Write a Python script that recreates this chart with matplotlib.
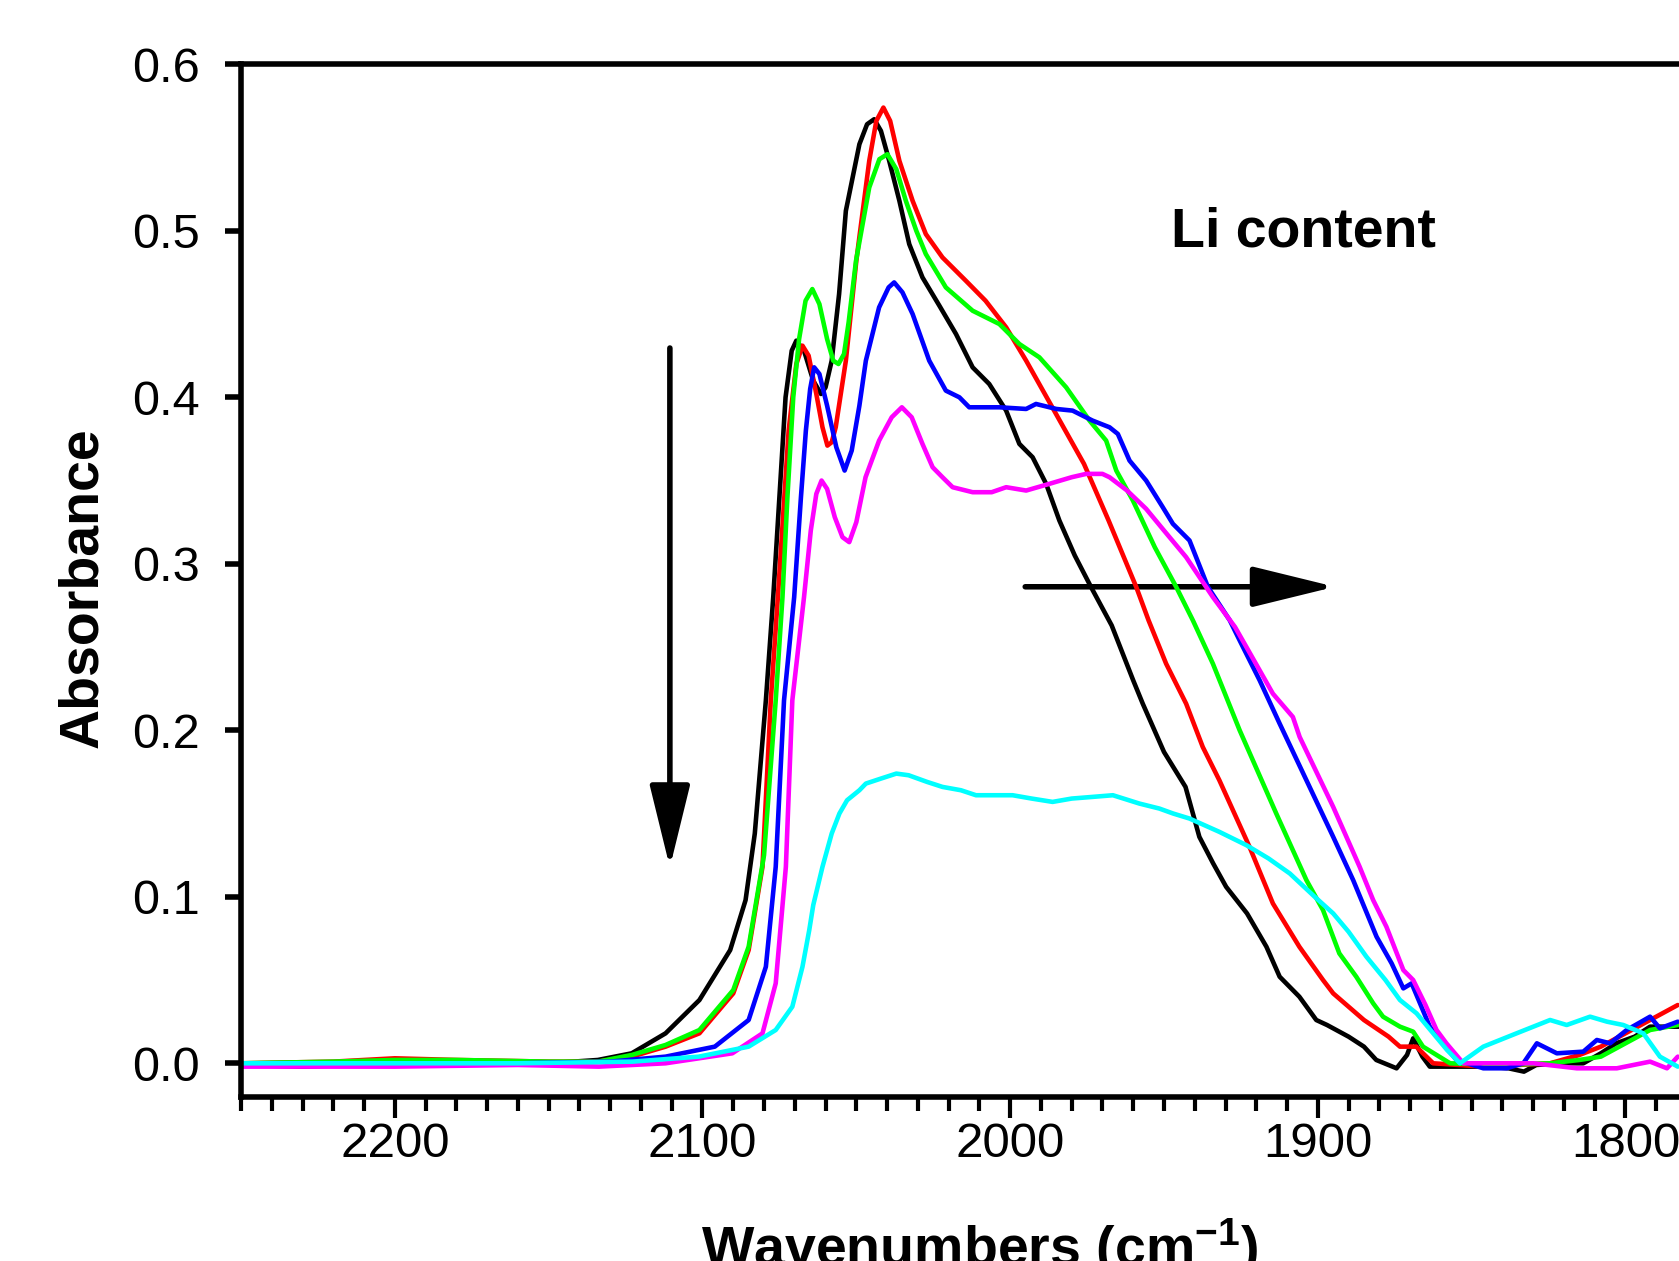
import matplotlib
matplotlib.use('Agg')
import matplotlib.pyplot as plt
from matplotlib.ticker import MultipleLocator, FormatStrFormatter
from matplotlib.patches import FancyArrowPatch

plt.rcParams['font.family'] = ['Liberation Sans', 'DejaVu Sans']
plt.rcParams['mathtext.fontset'] = 'custom'
plt.rcParams['mathtext.rm'] = 'Liberation Sans:bold'
plt.rcParams['mathtext.default'] = 'rm'

# spectra: wavenumber (cm-1) / absorbance
wn_black = [2250, 2230, 2200, 2170, 2150, 2134, 2123, 2112, 2101, 2091, 2086, 2083, 2079.4, 2077, 2075, 2073,
            2071, 2069.5, 2067, 2064, 2061.5, 2060, 2058, 2055.6, 2053.4, 2049, 2046.5, 2044.2, 2042, 2039.3,
            2036, 2032.8, 2028.5, 2023, 2017.6, 2012.2, 2006.8, 2001.3, 1997, 1992.7, 1988.3, 1984, 1979,
            1973.7, 1967, 1960, 1956.9, 1950, 1943, 1938.5, 1934, 1929.8, 1923, 1916.7, 1912.4, 1906, 1900.5,
            1897, 1890, 1885, 1881, 1874.4, 1871, 1869, 1866, 1863.6, 1855, 1845, 1838, 1833, 1829, 1820,
            1813.7, 1808, 1803, 1797, 1792, 1782]
ab_black = [-0.001, -0.002, 0.0, 0.0, 0.0, 0.002, 0.006, 0.018, 0.038, 0.068, 0.098, 0.138, 0.218, 0.28, 0.34,
            0.40, 0.428, 0.434, 0.428, 0.41, 0.402, 0.406, 0.422, 0.462, 0.512, 0.552, 0.564, 0.567, 0.560,
            0.542, 0.518, 0.492, 0.472, 0.455, 0.438, 0.418, 0.408, 0.392, 0.372, 0.364, 0.348, 0.326, 0.305,
            0.286, 0.263, 0.230, 0.216, 0.187, 0.166, 0.136, 0.12, 0.106, 0.090, 0.070, 0.052, 0.040, 0.026,
            0.023, 0.016, 0.010, 0.002, -0.003, 0.005, 0.015, 0.004, -0.002, -0.002, -0.002, -0.003, -0.005,
            -0.001, 0.0, 0.0, 0.006, 0.012, 0.016, 0.022, 0.022]

wn_red = [2250, 2220, 2200, 2180, 2150, 2134, 2123, 2112, 2101, 2090, 2085, 2080.5, 2077.8, 2075.5, 2072,
          2069.5, 2067.5, 2065.5, 2063, 2061, 2059.4, 2058, 2056.7, 2053.4, 2050, 2045.8, 2043.5, 2041.2, 2039,
          2036, 2031.7, 2027.4, 2022, 2014.4, 2008, 2001.3, 1994.8, 1986, 1976, 1968, 1959, 1955, 1949.3,
          1942.8, 1937.4, 1932, 1922.2, 1914.6, 1906, 1898.3, 1895, 1885, 1877, 1873.3, 1868, 1862.5, 1846,
          1835, 1824.5, 1815, 1808, 1800, 1792, 1783]
ab_red = [0.0, 0.001, 0.003, 0.002, 0.001, 0.001, 0.004, 0.010, 0.018, 0.042, 0.068, 0.118, 0.218, 0.28, 0.38,
          0.42, 0.431, 0.425, 0.402, 0.382, 0.371, 0.373, 0.382, 0.422, 0.482, 0.542, 0.566, 0.574, 0.566,
          0.542, 0.518, 0.498, 0.484, 0.470, 0.458, 0.442, 0.422, 0.393, 0.360, 0.326, 0.286, 0.266, 0.240,
          0.216, 0.190, 0.170, 0.130, 0.096, 0.070, 0.050, 0.042, 0.026, 0.016, 0.010, 0.010, 0.0, -0.002,
          -0.001, 0.0, 0.005, 0.010, 0.018, 0.026, 0.035]

wn_green = [2250, 2220, 2200, 2180, 2150, 2134, 2123, 2112, 2101, 2090, 2085, 2080, 2076.2, 2074, 2072.4,
            2070.5, 2068.6, 2066.5, 2064.3, 2062, 2059.5, 2057.5, 2055.8, 2054, 2052.5, 2050.1, 2045.8, 2042.5,
            2039.9, 2037, 2033.9, 2030.5, 2027.4, 2020.9, 2012.2, 2003.5, 1997, 1990.5, 1981.8, 1974.2, 1968.8,
            1965.5, 1960.1, 1953, 1946, 1940.6, 1934.1, 1925.4, 1913.5, 1903.7, 1898.3, 1893, 1887.5, 1882,
            1878.8, 1873.3, 1869, 1865.8, 1857, 1840, 1824.5, 1815, 1808, 1800, 1792, 1783]
ab_green = [0.0, 0.001, 0.002, 0.002, 0.001, 0.001, 0.005, 0.011, 0.020, 0.044, 0.07, 0.125, 0.218, 0.28, 0.34,
            0.40, 0.435, 0.458, 0.465, 0.456, 0.435, 0.422, 0.420, 0.426, 0.445, 0.482, 0.526, 0.543, 0.546,
            0.537, 0.518, 0.50, 0.486, 0.466, 0.452, 0.444, 0.432, 0.424, 0.406, 0.386, 0.374, 0.356, 0.338,
            0.31, 0.286, 0.266, 0.240, 0.200, 0.150, 0.110, 0.092, 0.066, 0.052, 0.036, 0.028, 0.022, 0.019,
            0.010, 0.0, -0.001, 0.0, 0.002, 0.004, 0.012, 0.020, 0.023]

wn_blue = [2250, 2200, 2160, 2130, 2112, 2096, 2085, 2079.4, 2076.2, 2073.5, 2070.2, 2068, 2066.4, 2065,
           2063.7, 2062, 2059.5, 2056.5, 2053.8, 2051.5, 2049, 2046.9, 2042.6, 2039.5, 2037.7, 2035, 2031.7,
           2026.3, 2020.9, 2016.5, 2013.3, 2003.5, 1994.8, 1991.6, 1985, 1979.7, 1973.2, 1967.7, 1965, 1961.2,
           1955.8, 1950.4, 1947.1, 1941.7, 1935.7, 1928.6, 1925.4, 1918.9, 1912.4, 1903.7, 1895, 1888.5,
           1880.9, 1876, 1872.2, 1869.5, 1863.6, 1859.3, 1854.9, 1846.2, 1838.6, 1833.2, 1828.8, 1822.3,
           1813.7, 1809.3, 1805, 1799.6, 1792, 1788.8, 1783]
ab_blue = [0.0, 0.0, 0.0, 0.001, 0.004, 0.010, 0.026, 0.058, 0.118, 0.218, 0.280, 0.34, 0.380, 0.405, 0.418,
           0.414, 0.395, 0.37, 0.356, 0.368, 0.395, 0.422, 0.454, 0.466, 0.469, 0.463, 0.450, 0.422, 0.404,
           0.400, 0.394, 0.394, 0.393, 0.396, 0.393, 0.392, 0.386, 0.382, 0.378, 0.362, 0.350, 0.334, 0.324,
           0.314, 0.286, 0.266, 0.254, 0.230, 0.204, 0.170, 0.136, 0.110, 0.076, 0.060, 0.045, 0.048, 0.022,
           0.012, 0.002, -0.003, -0.003, 0.0, 0.012, 0.006, 0.007, 0.014, 0.012, 0.020, 0.028, 0.021, 0.025]

wn_magenta = [2250, 2200, 2160, 2133.7, 2112, 2090.3, 2080.5, 2076.2, 2072.9, 2070.8, 2067, 2064.8, 2063,
              2061.3, 2059.5, 2057, 2054.5, 2052.3, 2050, 2047, 2042.6, 2038.5, 2035.2, 2032, 2028.5, 2025.2,
              2022, 2018.7, 2012.2, 2006, 2001.3, 1994.8, 1987.3, 1980, 1975.3, 1970, 1967.7, 1962, 1955.8, 1950,
              1942.8, 1934.1, 1926.9, 1923.2, 1914.6, 1908.1, 1905.9, 1895, 1886.4, 1882, 1877.7, 1872.2, 1869,
              1865, 1861.4, 1858.2, 1852.7, 1840, 1829.9, 1815.8, 1802.8, 1792, 1786.5, 1783]
ab_magenta = [-0.002, -0.002, -0.001, -0.002, 0.0, 0.006, 0.018, 0.048, 0.118, 0.218, 0.280, 0.320, 0.342,
              0.350, 0.345, 0.328, 0.316, 0.313, 0.325, 0.352, 0.374, 0.388, 0.394, 0.388, 0.372, 0.358, 0.352,
              0.346, 0.343, 0.343, 0.346, 0.344, 0.348, 0.352, 0.354, 0.354, 0.352, 0.344, 0.333, 0.320, 0.304,
              0.280, 0.262, 0.250, 0.222, 0.208, 0.196, 0.154, 0.118, 0.098, 0.082, 0.056, 0.050, 0.035, 0.020,
              0.012, 0.0, 0.0, 0.0, -0.003, -0.003, 0.001, -0.003, 0.004]

wn_cyan = [2250, 2200, 2160, 2122.8, 2101.2, 2085, 2076.2, 2070.8, 2067.5, 2065.3, 2064, 2061, 2058, 2055.5,
           2053, 2049, 2046.9, 2042, 2037, 2033, 2027, 2022, 2016, 2011.1, 2005, 1999.2, 1993, 1986.2, 1980,
           1973.2, 1966.6, 1958, 1951.5, 1947, 1941.7, 1932, 1923.2, 1916, 1909.1, 1901, 1895, 1890, 1884.2,
           1878, 1873.3, 1867.9, 1862.5, 1858, 1853.8, 1846.2, 1835.4, 1824.5, 1819.1, 1811.5, 1806, 1800.7,
           1794.2, 1788.8, 1783]
ab_cyan = [0.0, 0.0, 0.0, 0.001, 0.004, 0.010, 0.020, 0.034, 0.058, 0.08, 0.095, 0.118, 0.138, 0.150, 0.158,
           0.164, 0.168, 0.171, 0.174, 0.173, 0.169, 0.166, 0.164, 0.161, 0.161, 0.161, 0.159, 0.157, 0.159,
           0.160, 0.161, 0.156, 0.153, 0.150, 0.147, 0.139, 0.131, 0.123, 0.114, 0.10, 0.090, 0.079, 0.064,
           0.050, 0.038, 0.030, 0.018, 0.008, 0.0, 0.010, 0.018, 0.026, 0.023, 0.028, 0.025, 0.023, 0.018,
           0.004, -0.002]

series = [
    (wn_black, ab_black, '#000000'),
    (wn_red, ab_red, '#ff0000'),
    (wn_green, ab_green, '#00ff00'),
    (wn_blue, ab_blue, '#0000ff'),
    (wn_magenta, ab_magenta, '#ff00ff'),
    (wn_cyan, ab_cyan, '#00ffff'),
]

fig = plt.figure(figsize=(16.79, 12.61), dpi=100)
ax = fig.add_axes([0.14354, 0.12966, 0.85646, 0.81935])

for wn, ab, c in series:
    ax.plot(wn, ab, color=c, lw=3.3, solid_joinstyle='round', solid_capstyle='round')

ax.set_xlim(2250, 1782.6)
ax.set_ylim(-0.02054, 0.6)

ax.spines['right'].set_visible(False)
for s in ['left', 'top', 'bottom']:
    ax.spines[s].set_linewidth(4)

ax.xaxis.set_major_locator(MultipleLocator(100))
ax.xaxis.set_minor_locator(MultipleLocator(10))
ax.set_yticks([0.0, 0.1, 0.2, 0.3, 0.4, 0.5, 0.6])
ax.yaxis.set_major_formatter(FormatStrFormatter('%.1f'))
ax.xaxis.set_ticks_position('bottom')
ax.yaxis.set_ticks_position('left')
ax.tick_params(axis='y', direction='out', length=11.5, width=4, pad=18, labelsize=35)
ax.tick_params(axis='x', which='major', direction='out', length=15, width=3, pad=3, labelsize=35.5)
ax.tick_params(axis='x', which='minor', direction='out', length=10, width=3)

# arrows
ax.add_patch(FancyArrowPatch((2110.6, 0.4296), (2110.6, 0.1176),
                             arrowstyle='-|>,head_length=51,head_width=12.5', mutation_scale=1,
                             lw=4, color='k', shrinkA=0, shrinkB=0, joinstyle='round', capstyle='round'))
ax.add_patch(FancyArrowPatch((1995.1, 0.2862), (1894.4, 0.2862),
                             arrowstyle='-|>,head_length=51,head_width=12.5', mutation_scale=1,
                             lw=4, color='k', shrinkA=0, shrinkB=0, joinstyle='round', capstyle='round'))

ax.text(1904.6, 0.499, 'Li content', ha='center', va='center', fontsize=40, fontweight='bold')

fig.text(83.5 / 1679, 1 - 588 / 1261, 'Absorbance', rotation=90, ha='center', va='center',
         fontsize=40, fontweight='bold')
fig.text(980 / 1679, 1 - 1266 / 1261, 'Wavenumbers (cm$^{-1}$)', ha='center', va='baseline',
         fontsize=40, fontweight='bold')

fig.savefig('out.png', dpi=100)
